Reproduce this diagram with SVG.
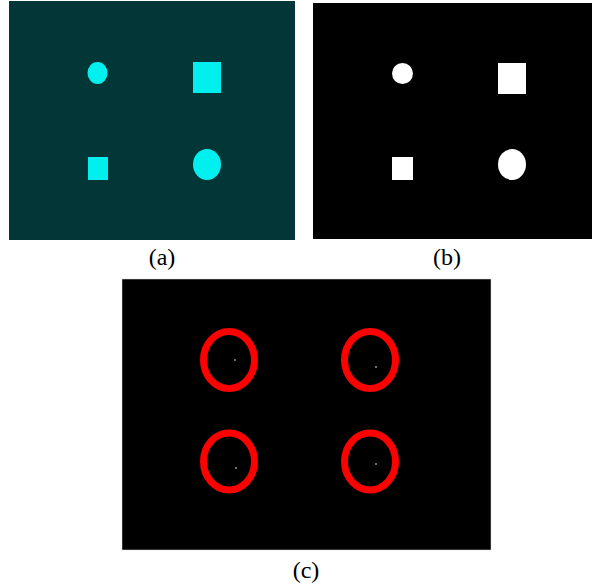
<svg xmlns="http://www.w3.org/2000/svg" width="592" height="588" viewBox="0 0 592 588">
<style>
.lbl{font-family:"Liberation Serif","Times New Roman",serif;font-size:24px;fill:#000;text-anchor:middle}
.cy{fill:#00F0F0}
.wh{fill:#fff}
.ring{fill:none;stroke:#FF0000;stroke-width:7}
.dot{fill:#fff}
</style>
<rect width="592" height="588" fill="#fff"/>
<g id="panel-a">
<rect x="9" y="1" width="286" height="239" fill="#033636"/>
<ellipse class="cy" cx="97.5" cy="73" rx="10" ry="11"/>
<rect class="cy" x="193" y="62" width="28" height="31"/>
<rect class="cy" x="88" y="157" width="20" height="23"/>
<ellipse class="cy" cx="207" cy="164.5" rx="14" ry="15.5"/>
<text class="lbl" x="162" y="265">(a)</text>
</g>
<g id="panel-b">
<rect x="313" y="3" width="279" height="236" fill="#000"/>
<ellipse class="wh" cx="402.5" cy="73.5" rx="10.5" ry="10.5"/>
<rect class="wh" x="498" y="63" width="28" height="31"/>
<rect class="wh" x="392" y="157" width="21" height="23"/>
<ellipse class="wh" cx="512" cy="164.5" rx="14" ry="15.5"/>
<text class="lbl" x="447" y="265">(b)</text>
</g>
<g id="panel-c">
<rect x="122" y="279" width="369" height="271" fill="#000" stroke="#ddd" stroke-width="0.5"/>
<ellipse class="ring" cx="229" cy="360" rx="25.5" ry="28.5"/>
<ellipse class="ring" cx="370" cy="360" rx="25.5" ry="28.5"/>
<ellipse class="ring" cx="229" cy="461.5" rx="25.5" ry="28.5"/>
<ellipse class="ring" cx="370" cy="461.5" rx="25.5" ry="28.5"/>
<circle class="dot" cx="235" cy="360" r="0.8"/>
<circle class="dot" cx="376" cy="367" r="0.8"/>
<circle class="dot" cx="236" cy="468" r="0.8"/>
<circle class="dot" cx="376" cy="464" r="0.8"/>
<text class="lbl" x="306" y="578">(c)</text>
</g>
</svg>
